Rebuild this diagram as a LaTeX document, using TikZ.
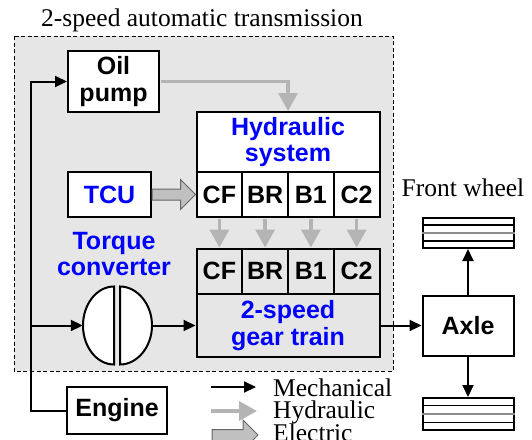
\documentclass[tikz,border=0pt]{standalone}
\usepackage{fontspec}
\setmainfont{Liberation Serif}
\setsansfont{Liberation Sans}
\usepackage{tikz}
\usetikzlibrary{arrows.meta,calc}
\definecolor{hydgray}{RGB}{180,180,180}
\definecolor{bggray}{RGB}{230,230,230}
\definecolor{elecgray}{RGB}{192,192,192}
\tikzset{
  blk/.style={draw, line width=2pt, fill=white, align=center, inner sep=0pt,
    font=\sffamily\bfseries\fontsize{25}{26.5}\selectfont},
  cell/.style={blk, minimum width=45.75pt, minimum height=45pt},
  mech/.style={line width=2pt, -{Triangle[length=12pt,width=11pt]}},
  hyd/.style={line width=3.5pt, draw=hydgray, -{Triangle[length=18pt,width=19pt]}},
  elec/.style={draw=black!60, line width=1pt, fill=elecgray},
  serifnote/.style={font=\fontsize{25.5}{27}\selectfont, inner sep=0pt},
}
\newcommand{\clutchrow}[3]{% prefix, y centre, fill
  \foreach \cl [count=\i] in {CF,BR,B1,C2}
    \node[cell, fill=#3] (#1\cl) at ({196.5+45.75*(\i-0.5)},#2) {\cl};}
\newcommand{\wheelbox}[3]{% name, y centre, height
  \node[blk, minimum width=91pt, minimum height=#3] (#1) at (468,#2) {};
  \foreach \f/\c in {0.25/black, 0.5/black!45, 0.75/black}
    \draw[color=\c, line width=1.2pt] ($(#1.north west)!\f!(#1.south west)$) -- ($(#1.north east)!\f!(#1.south east)$);}
\newcommand{\elecarrow}[2]{% start, tip
  \draw[elec] ($(#1)+(0,-5.5)$) -- ($(#2)+(-15,-5.5)$) -- ++(0,-9.5) -- (#2)
    -- ($(#2)+(-15,15)$) -- ++(0,-9.5) -- ($(#1)+(0,5.5)$) -- cycle;}

\begin{document}
\begin{tikzpicture}[x=1pt, y=-1pt]
  \useasboundingbox (0,0) rectangle (532,439);
  % transmission housing
  \draw[fill=bggray, line width=0.8pt, dash pattern=on 4pt off 2.5pt] (14,36) rectangle (393,371);
  \node[serifnote, anchor=base] (title) at (202,27) {2-speed automatic transmission};
  % blocks
  \node[blk, minimum width=91pt, minimum height=61pt] (pump) at (113.5,81.5) {Oil\\pump};
  \node[blk, text=blue, minimum width=183pt, minimum height=60pt] (hsys) at (288,142) {Hydraulic\\system};
  \clutchrow{h}{194.5}{white}
  \node[blk, text=blue, minimum width=83pt, minimum height=45pt] (tcu) at (109.5,194.5) {TCU};
  \clutchrow{g}{271}{bggray}
  \node[blk, fill=none, text=blue, minimum width=183pt, minimum height=63pt] (gtrain) at (288,325.5) {2-speed\\gear train};
  \node[blk, fill=none, draw=none, text=blue] (tclabel) at (114,254) {Torque\\converter};
  \node[minimum width=69pt, minimum height=78pt, inner sep=0pt] (tc) at (117.5,325.5) {};
  \draw[line width=2pt, fill=white] (114,286.5) .. controls (96.9,286.5) and (83,304) .. (83,325.5)
    .. controls (83,347) and (96.9,364.5) .. (114,364.5) -- cycle;
  \draw[line width=2pt, fill=white] (120,286.5) .. controls (137.1,286.5) and (152,304) .. (152,325.5)
    .. controls (152,347) and (137.1,364.5) .. (120,364.5) -- cycle;
  \node[blk, minimum width=100pt, minimum height=47pt] (engine) at (117,410.5) {Engine};
  \node[blk, minimum width=91pt, minimum height=60pt] (axle) at (468,325.5) {Axle};
  \wheelbox{fwheel}{233}{30pt}
  \wheelbox{rwheel}{414}{32pt}
  \node[serifnote, anchor=base] (flabel) at (463,196) {Front wheel};
  % connections
  \coordinate (tap) at (31,325.5);
  \draw[mech] (engine.west) -| (tap) |- (pump.west);
  \draw[mech] (tap) -- (tc.west);
  \draw[mech] (tc.east) -- (gtrain.west);
  \draw[mech] (gtrain.east) -- (axle.west);
  \draw[mech] (axle.north) -- (fwheel.south);
  \draw[mech] (axle.south) -- (rwheel.north);
  \draw[hyd, shorten <=1pt] (pump.east) -| (hsys.north);
  \foreach \cl in {CF,BR,B1,C2}
    \draw[hyd, shorten <=1pt] (h\cl.south) -- (g\cl.north);
  \elecarrow{tcu.east}{hCF.west}
  % legend
  \coordinate (lm0) at (211,387); \coordinate (lm1) at (256,387);
  \draw[mech] (lm0) -- (lm1);
  \node[serifnote, anchor=base west] (lmech) at (273,396) {Mechanical};
  \coordinate (lh0) at (211,411); \coordinate (lh1) at (257,411);
  \draw[hyd] (lh0) -- (lh1);
  \node[serifnote, anchor=base west] (lhyd) at (273,418.5) {Hydraulic};
  \coordinate (le0) at (212,435); \coordinate (le1) at (258,435);
  \elecarrow{le0}{le1}
  \node[serifnote, anchor=base west] (lelec) at (273,441.5) {Electric};
\end{tikzpicture}
\end{document}
